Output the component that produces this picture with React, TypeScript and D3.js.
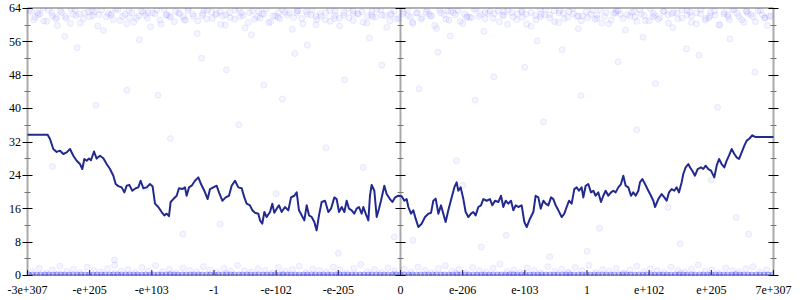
import React from "react";
import * as d3 from "d3";

// x in tick-index units (-6 .. 6), y in value units
const xTickLabels = ["-3e+307", "-e+205", "-e+103", "-1", "-e-102", "-e-205", "0", "e-206", "e-103", "1", "e+102", "e+205", "7e+307"];
const xTickPos = [-6, -5, -4, -3, -2, -1, 0, 1, 2, 3, 4, 5, 6];
const yMajor = [0, 8, 16, 24, 32, 40, 48, 56, 64];
const yMinor = [4, 12, 20, 28, 36, 44, 52, 60];

const lineX = [
  -6.0, -5.676, -5.638, -5.585, -5.531, -5.477, -5.424, -5.37, -5.316, -5.263, -5.209, -5.156, -5.118, -5.086, -5.048, -5.011, -4.979, -4.93, -4.888, -4.834,
  -4.78, -4.727, -4.673, -4.619, -4.582, -4.539, -4.485, -4.442, -4.405, -4.362, -4.314, -4.26, -4.217, -4.18, -4.137, -4.083, -4.03, -3.987, -3.949, -3.896,
  -3.842, -3.799, -3.761, -3.724, -3.697, -3.654, -3.601, -3.563, -3.509, -3.467, -3.44, -3.402, -3.359, -3.306, -3.252, -3.209, -3.156, -3.102, -3.064, -3.011,
  -2.957, -2.92, -2.866, -2.812, -2.759, -2.716, -2.662, -2.609, -2.555, -2.512, -2.475, -2.421, -2.383, -2.341, -2.287, -2.26, -2.223, -2.19, -2.153, -2.099,
  -2.062, -2.03, -1.992, -1.954, -1.912, -1.858, -1.804, -1.761, -1.708, -1.67, -1.633, -1.59, -1.547, -1.509, -1.472, -1.429, -1.386, -1.349, -1.311, -1.268,
  -1.214, -1.161, -1.118, -1.064, -1.027, -0.989, -0.946, -0.903, -0.866, -0.828, -0.786, -0.743, -0.705, -0.668, -0.625, -0.598, -0.56, -0.517, -0.491, -0.464,
  -0.421, -0.383, -0.346, -0.314, -0.26, -0.223, -0.169, -0.131, -0.088, -0.035,
  0.019, 0.062, 0.099, 0.126, 0.169, 0.206, 0.244, 0.287, 0.34, 0.394, 0.448, 0.491, 0.528, 0.566, 0.609, 0.651, 0.689, 0.726, 0.769, 0.823,
  0.866, 0.903, 0.93, 0.968, 1.011, 1.048, 1.091, 1.134, 1.172, 1.209, 1.252, 1.295, 1.332, 1.386, 1.44, 1.477, 1.52, 1.574, 1.617, 1.654,
  1.692, 1.735, 1.778, 1.815, 1.853, 1.895, 1.949, 1.992, 2.03, 2.083, 2.137, 2.174, 2.217, 2.255, 2.298, 2.335, 2.378, 2.421, 2.459, 2.496,
  2.539, 2.593, 2.635, 2.673, 2.711, 2.753, 2.796, 2.834, 2.871, 2.914, 2.941, 2.979, 3.021, 3.064, 3.102, 3.139, 3.182, 3.225, 3.263, 3.3,
  3.343, 3.386, 3.424, 3.461, 3.504, 3.547, 3.584, 3.622, 3.665, 3.708, 3.745, 3.783, 3.826, 3.852, 3.89, 3.933, 3.987, 4.029, 4.067, 4.094,
  4.147, 4.201, 4.244, 4.281, 4.319, 4.362, 4.404, 4.442, 4.479, 4.522, 4.549, 4.587, 4.63, 4.657, 4.694, 4.737, 4.78, 4.834, 4.871, 4.909,
  4.952, 4.995, 5.048, 5.086, 5.124, 5.166, 5.209, 5.247, 5.284, 5.327, 5.37, 5.408, 5.445, 5.488, 5.531, 5.569, 5.606, 5.66, 5.703, 6.0,
];
const lineY = [
  33.6, 33.6, 32.6, 30.2, 29.5, 29.8, 29.0, 29.4, 30.2, 28.6, 27.4, 26.6, 25.4, 27.8, 27.4, 27.9, 27.5, 29.6, 27.9, 28.6,
  28.0, 26.6, 25.4, 23.8, 21.8, 21.3, 21.0, 19.8, 21.4, 21.6, 20.2, 20.8, 21.0, 22.6, 20.8, 21.0, 21.8, 21.2, 17.1, 16.3,
  15.1, 14.3, 14.7, 14.1, 17.5, 18.2, 19.0, 20.8, 20.6, 21.0, 19.0, 21.0, 21.4, 22.6, 23.4, 21.8, 20.2, 18.2, 20.6, 21.0,
  21.4, 19.8, 17.8, 18.6, 19.0, 21.4, 22.6, 21.0, 20.8, 18.6, 17.1, 16.7, 15.5, 14.9, 14.7, 13.1, 12.3, 15.1, 13.9, 15.1,
  17.1, 14.9, 15.9, 16.7, 15.1, 16.3, 15.5, 18.6, 19.0, 19.8, 15.5, 14.3, 13.1, 16.7, 14.3, 13.9, 12.7, 10.7, 14.3, 17.5,
  17.8, 15.1, 15.9, 18.6, 18.2, 15.1, 16.3, 15.1, 17.8, 15.9, 15.5, 14.7, 15.9, 16.3, 14.7, 16.3, 14.7, 13.1, 19.0, 21.6,
  20.2, 13.9, 15.9, 17.8, 21.4, 19.4, 18.2, 17.5, 18.6, 19.0,
  18.9, 17.8, 18.2, 16.3, 14.7, 15.5, 13.5, 11.5, 12.3, 13.9, 14.7, 14.9, 17.8, 18.3, 14.7, 16.7, 14.7, 12.7, 15.5, 18.6,
  21.0, 22.2, 20.2, 21.0, 18.2, 15.1, 13.9, 14.7, 15.1, 14.3, 16.3, 16.7, 18.2, 17.8, 18.2, 16.7, 17.8, 17.5, 19.0, 16.3,
  17.8, 17.1, 17.8, 15.5, 16.7, 16.3, 16.7, 12.7, 11.5, 13.5, 15.1, 19.0, 18.6, 15.9, 17.8, 17.1, 16.7, 18.6, 18.2, 16.7,
  15.5, 13.9, 14.7, 16.3, 17.8, 17.1, 20.6, 21.0, 20.2, 21.0, 18.6, 21.4, 21.8, 19.8, 20.2, 19.0, 19.8, 17.5, 19.0, 20.2,
  19.0, 19.8, 20.2, 19.8, 21.0, 21.8, 23.8, 21.4, 21.0, 19.0, 19.8, 19.0, 20.2, 22.2, 23.0, 21.8, 20.2, 19.0, 17.8, 16.3,
  18.2, 19.4, 18.6, 17.8, 19.8, 20.6, 20.2, 21.0, 19.8, 22.2, 24.2, 25.8, 26.6, 25.8, 25.0, 23.8, 25.4, 25.8, 25.4, 26.2,
  25.4, 25.0, 23.4, 26.2, 27.8, 26.6, 25.8, 27.4, 28.6, 30.2, 29.0, 28.2, 27.8, 29.4, 31.0, 32.2, 32.6, 33.5, 33.1, 33.1,
];

const topPts: [number, number][] = [
  [-5.95, 63.2], [-5.88, 61.8], [-5.8, 62.6], [-5.74, 60.9], [-5.66, 63.5], [-5.6, 62.1], [-5.52, 59.8], [-5.45, 62.9], [-5.38, 61.5], [-5.3, 63.8],
  [-5.22, 62.2], [-5.15, 60.4], [-5.08, 62.8], [-5.0, 61.9], [-4.92, 63.1], [-4.85, 62.4], [-4.78, 58.6], [-4.7, 62.7], [-4.62, 61.2], [-4.55, 63.6],
  [-4.47, 62.0], [-4.4, 60.2], [-4.32, 62.9], [-4.25, 61.6], [-4.17, 63.3], [-4.1, 62.3], [-4.02, 59.5], [-3.95, 62.6], [-3.87, 61.1], [-3.8, 63.7],
  [-3.72, 62.1], [-3.64, 60.7], [-3.57, 62.8], [-3.49, 61.9], [-3.42, 63.4], [-3.34, 62.5], [-3.27, 57.9], [-3.19, 62.2], [-3.12, 61.4], [-3.04, 63.0],
  [-2.96, 62.7], [-2.89, 60.1], [-2.81, 62.4], [-2.74, 61.7], [-2.66, 63.5], [-2.58, 62.0], [-2.5, 59.2], [-2.43, 62.9], [-2.35, 61.3], [-2.28, 63.2],
  [-2.2, 62.6], [-2.12, 60.5], [-2.05, 62.1], [-1.97, 61.8], [-1.9, 63.6], [-1.82, 62.3], [-1.74, 58.9], [-1.67, 62.8], [-1.59, 61.5], [-1.52, 63.1],
  [-1.44, 62.4], [-1.36, 60.0], [-1.29, 62.7], [-1.21, 61.2], [-1.14, 63.4], [-1.06, 62.2], [-0.98, 59.7], [-0.91, 62.9], [-0.83, 61.6], [-0.76, 63.3],
  [-0.68, 62.5], [-0.6, 60.6], [-0.53, 62.0], [-0.45, 61.9], [-0.38, 63.7], [-0.3, 62.3], [-0.22, 59.4], [-0.15, 62.6], [-0.07, 61.4],
  [0.05, 63.0], [0.12, 62.2], [0.2, 60.3], [0.27, 62.8], [0.35, 61.7], [0.43, 63.5], [0.5, 62.1], [0.58, 59.1], [0.65, 62.9], [0.73, 61.3],
  [0.81, 63.2], [0.88, 62.4], [0.96, 60.8], [1.03, 62.6], [1.11, 61.8], [1.19, 63.6], [1.26, 62.0], [1.34, 58.4], [1.41, 62.7], [1.49, 61.5],
  [1.57, 63.3], [1.64, 62.3], [1.72, 60.1], [1.79, 62.9], [1.87, 61.2], [1.95, 63.4], [2.02, 62.5], [2.1, 59.6], [2.17, 62.2], [2.25, 61.9],
  [2.33, 63.7], [2.4, 62.4], [2.48, 60.7], [2.55, 62.8], [2.63, 61.4], [2.71, 63.1], [2.78, 62.6], [2.86, 59.0], [2.93, 62.1], [3.01, 61.7],
  [3.09, 63.5], [3.16, 62.3], [3.24, 60.4], [3.31, 62.9], [3.39, 61.1], [3.47, 63.3], [3.54, 62.5], [3.62, 58.7], [3.69, 62.0], [3.77, 61.8],
  [3.85, 63.6], [3.92, 62.2], [4.0, 60.9], [4.07, 62.7], [4.15, 61.3], [4.23, 63.2], [4.3, 62.4], [4.38, 59.3], [4.45, 62.8], [4.53, 61.6],
  [4.61, 63.4], [4.68, 62.1], [4.76, 60.2], [4.83, 62.6], [4.91, 61.5], [4.99, 63.0], [5.06, 62.3], [5.14, 59.9], [5.21, 62.9], [5.29, 61.2],
  [5.37, 63.5], [5.44, 62.0], [5.52, 60.6], [5.59, 62.7], [5.67, 61.9], [5.75, 63.3], [5.82, 62.4], [5.9, 59.8], [5.96, 62.1],
  [-5.84, 62.9], [-5.55, 61.4], [-5.27, 62.5], [-4.96, 63.4], [-4.66, 62.3], [-4.36, 61.7], [-4.06, 63.0], [-3.76, 62.4], [-3.46, 61.2], [-3.16, 63.5],
  [-2.86, 62.1], [-2.56, 62.8], [-2.26, 61.6], [-1.96, 62.9], [-1.66, 63.3], [-1.36, 62.0], [-1.06, 61.5], [-0.76, 62.7], [-0.46, 63.2], [-0.16, 62.4],
  [0.16, 61.9], [0.46, 62.6], [0.76, 63.3], [1.06, 61.7], [1.36, 62.9], [1.66, 63.1], [1.96, 61.8], [2.26, 62.5], [2.56, 63.4], [2.86, 62.0],
  [3.16, 61.5], [3.46, 62.8], [3.76, 63.2], [4.06, 61.9], [4.36, 62.6], [4.66, 63.0], [4.96, 61.6], [5.26, 62.4], [5.56, 63.3], [5.86, 61.7],
];

const topX2 = [
  -5.97, -5.9, -5.83, -5.75, -5.69, -5.61, -5.53, -5.47, -5.39, -5.31, -5.24, -5.17, -5.1, -5.02, -4.95, -4.87, -4.81, -4.73, -4.65, -4.58,
  -4.51, -4.43, -4.37, -4.29, -4.21, -4.14, -4.07, -3.99, -3.92, -3.85, -3.77, -3.7, -3.62, -3.55, -3.48, -3.41, -3.33, -3.26, -3.18, -3.11,
  -3.03, -2.97, -2.9, -2.82, -2.75, -2.67, -2.6, -2.53, -2.45, -2.38, -2.31, -2.23, -2.16, -2.09, -2.01, -1.94, -1.86, -1.79, -1.72, -1.65,
  -1.57, -1.5, -1.42, -1.35, -1.28, -1.2, -1.13, -1.05, -0.98, -0.91, -0.84, -0.76, -0.69, -0.62, -0.54, -0.47, -0.4, -0.32, -0.25, -0.17,
  -0.1, -0.03, 0.04, 0.11, 0.19, 0.26, 0.33, 0.41, 0.48, 0.55, 0.63, 0.7, 0.78, 0.85, 0.92, 1.0, 1.07, 1.14, 1.22, 1.29,
  1.36, 1.44, 1.51, 1.59, 1.66, 1.73, 1.81, 1.88, 1.95, 2.03, 2.1, 2.18, 2.25, 2.32, 2.4, 2.47, 2.54, 2.62, 2.69, 2.77,
  2.84, 2.91, 2.99, 3.06, 3.13, 3.21, 3.28, 3.35, 3.43, 3.5, 3.58, 3.65, 3.72, 3.8, 3.87, 3.94, 4.02, 4.09, 4.17, 4.24,
  4.31, 4.39, 4.46, 4.53, 4.61, 4.68, 4.76, 4.83, 4.9, 4.98, 5.05, 5.12, 5.2, 5.27, 5.34, 5.42, 5.49, 5.57, 5.64, 5.71,
  5.79, 5.86, 5.93,
];
const topY2 = [
  63.6, 61.2, 62.4, 63.9, 60.8, 62.9, 61.7, 63.3, 62.0, 60.3, 63.7, 62.6, 61.4, 63.1, 62.2, 59.7, 63.5, 61.9, 62.7, 63.8,
  61.0, 62.5, 63.4, 60.6, 62.1, 63.0, 61.6, 62.8, 63.6, 60.1, 62.3, 61.8, 63.2, 62.6, 61.1, 63.9, 62.0, 60.9, 62.7, 63.5,
  61.5, 62.4, 63.1, 59.9, 62.9, 61.3, 63.7, 62.2, 60.5, 63.3, 61.9, 62.6, 63.8, 60.7, 62.1, 61.4, 63.0, 62.8, 61.7, 63.4,
  60.2, 62.5, 63.6, 61.2, 62.0, 62.9, 60.8, 63.2, 61.6, 62.3, 63.9, 61.0, 62.7, 63.1, 60.4, 62.4, 61.8, 63.5, 62.2, 60.9,
  63.3, 61.5, 62.6, 63.7, 60.6, 62.8, 61.3, 63.0, 62.1, 59.8, 63.6, 62.4, 61.1, 62.9, 63.4, 60.3, 62.0, 61.7, 63.8, 62.5,
  61.4, 63.2, 62.7, 60.7, 62.2, 63.5, 61.9, 62.6, 63.0, 60.1, 62.9, 61.2, 63.7, 62.3, 61.6, 63.3, 60.5, 62.8, 61.8, 63.9,
  62.1, 60.9, 63.1, 62.5, 61.3, 63.6, 62.0, 60.2, 62.7, 63.4, 61.5, 62.4, 63.0, 60.8, 62.6, 61.0, 63.8, 62.2, 61.7, 63.2,
  60.4, 62.9, 61.4, 63.5, 62.3, 60.6, 62.8, 63.7, 61.1, 62.1, 63.3, 60.0, 62.5, 61.9, 63.6, 62.7, 61.2, 63.1, 62.4, 60.7,
  63.4, 61.6, 62.0,
];

const midPts: [number, number][] = [
  [-5.2, 54.5], [-4.9, 40.7], [-4.4, 44.3], [-3.9, 43.1], [-3.5, 9.8], [-3.2, 52.0], [-2.8, 49.2], [-2.6, 36.0], [-2.2, 45.5], [-1.9, 42.2],
  [-1.5, 55.1], [-1.2, 30.5], [-0.9, 46.8], [-0.6, 25.8], [-0.3, 50.3], [-0.1, 9.1], [0.3, 44.6], [0.6, 53.4], [0.9, 27.4], [1.2, 41.9],
  [1.5, 47.5], [1.7, 9.5], [2.0, 49.8], [2.3, 36.7], [2.6, 54.0], [2.9, 43.0], [3.2, 11.2], [3.5, 51.1], [3.8, 34.8], [4.1, 45.9],
  [4.5, 7.5], [4.8, 52.7], [5.1, 40.2], [5.4, 13.8], [5.7, 48.6], [-5.6, 26.0], [-4.1, 20.9], [-2.0, 19.5], [1.0, 21.5], [4.3, 16.2],
  [5.0, 22.8], [3.0, 5.7], [-1.0, 5.2], [-4.6, 3.6], [2.4, 4.4], [0.2, 8.3], [-2.9, 12.2], [5.6, 9.8], [1.3, 6.7], [-3.7, 32.7],
  [-5.4, 57.2], [-4.2, 56.4], [-2.4, 57.6], [-0.5, 56.8], [0.8, 57.3], [2.2, 56.1], [3.9, 57.0], [5.3, 56.6], [-1.7, 53.1], [4.6, 54.2],
];

const bottomPts: [number, number][] = [
  [-5.92, 0.8], [-5.81, 1.6], [-5.7, 0.5], [-5.6, 1.2], [-5.48, 2.1], [-5.37, 0.9], [-5.26, 1.4], [-5.15, 0.6], [-5.04, 1.9], [-4.93, 1.1],
  [-4.82, 0.7], [-4.71, 1.5], [-4.6, 2.4], [-4.49, 0.9], [-4.38, 1.3], [-4.27, 0.6], [-4.16, 1.8], [-4.05, 1.0], [-3.94, 2.2], [-3.83, 0.8],
  [-3.72, 1.4], [-3.61, 0.5], [-3.5, 1.7], [-3.39, 1.1], [-3.28, 0.7], [-3.17, 2.0], [-3.06, 1.2], [-2.95, 0.6], [-2.84, 1.6], [-2.73, 0.9],
  [-2.62, 2.3], [-2.51, 1.0], [-2.4, 0.7], [-2.29, 1.5], [-2.18, 1.1], [-2.07, 0.5], [-1.96, 1.8], [-1.85, 0.9], [-1.74, 1.3], [-1.63, 2.1],
  [-1.52, 0.6], [-1.41, 1.4], [-1.3, 1.0], [-1.19, 0.7], [-1.08, 1.9], [-0.97, 1.2], [-0.86, 0.5], [-0.75, 1.6], [-0.64, 2.5], [-0.53, 0.8],
  [-0.42, 1.3], [-0.31, 0.6], [-0.2, 1.7], [-0.09, 1.0],
  [0.06, 1.4], [0.17, 0.7], [0.28, 1.9], [0.39, 1.1], [0.5, 0.6], [0.61, 1.5], [0.72, 2.2], [0.83, 0.9], [0.94, 1.3], [1.05, 0.5],
  [1.16, 1.8], [1.27, 1.0], [1.38, 0.7], [1.49, 1.6], [1.6, 2.6], [1.71, 0.8], [1.82, 1.2], [1.93, 0.6], [2.04, 1.7], [2.15, 1.1],
  [2.26, 0.5], [2.37, 2.0], [2.48, 0.9], [2.59, 1.4], [2.7, 0.7], [2.81, 1.8], [2.92, 1.0], [3.03, 2.3], [3.14, 0.6], [3.25, 1.3],
  [3.36, 0.9], [3.47, 1.6], [3.58, 0.5], [3.69, 1.2], [3.8, 2.1], [3.91, 0.8], [4.02, 1.5], [4.13, 1.0], [4.24, 0.6], [4.35, 1.9],
  [4.46, 1.1], [4.57, 0.7], [4.68, 1.4], [4.79, 2.4], [4.9, 0.9], [5.01, 1.2], [5.12, 0.5], [5.23, 1.7], [5.34, 1.0], [5.45, 0.8],
  [5.56, 1.5], [5.67, 2.0], [5.78, 0.7], [5.89, 1.2],
  [-5.5, 0.3], [-4.6, 0.4], [-3.7, 0.3], [-2.8, 0.4], [-1.9, 0.3], [-1.0, 0.4], [-0.1, 0.3], [0.9, 0.4], [1.8, 0.3], [2.7, 0.4],
  [3.6, 0.3], [4.5, 0.4], [5.4, 0.3],
];

const zeroX = [
  -5.98, -5.92, -5.85, -5.79, -5.72, -5.66, -5.59, -5.53, -5.46, -5.4, -5.33, -5.27, -5.2, -5.14, -5.07, -5.01, -4.94, -4.88, -4.81, -4.75,
  -4.68, -4.62, -4.55, -4.49, -4.42, -4.36, -4.29, -4.23, -4.16, -4.1, -4.03, -3.97, -3.9, -3.84, -3.77, -3.71, -3.64, -3.58, -3.51, -3.45,
  -3.38, -3.32, -3.25, -3.19, -3.12, -3.06, -2.99, -2.93, -2.86, -2.8, -2.73, -2.67, -2.6, -2.54, -2.47, -2.41, -2.34, -2.28, -2.21, -2.15,
  -2.08, -2.02, -1.95, -1.89, -1.82, -1.76, -1.69, -1.63, -1.56, -1.5, -1.43, -1.37, -1.3, -1.24, -1.17, -1.11, -1.04, -0.98, -0.91, -0.85,
  -0.78, -0.72, -0.65, -0.59, -0.52, -0.46, -0.39, -0.33, -0.26, -0.2, -0.13, -0.07, 0.0, 0.06, 0.13, 0.19, 0.26, 0.32, 0.39, 0.45,
  0.52, 0.58, 0.65, 0.71, 0.78, 0.84, 0.91, 0.97, 1.04, 1.1, 1.17, 1.23, 1.3, 1.36, 1.43, 1.49, 1.56, 1.62, 1.69, 1.75,
  1.82, 1.88, 1.95, 2.01, 2.08, 2.14, 2.21, 2.27, 2.34, 2.4, 2.47, 2.53, 2.6, 2.66, 2.73, 2.79, 2.86, 2.92, 2.99, 3.05,
  3.12, 3.18, 3.25, 3.31, 3.38, 3.44, 3.51, 3.57, 3.64, 3.7, 3.77, 3.83, 3.9, 3.96, 4.03, 4.09, 4.16, 4.22, 4.29, 4.35,
  4.42, 4.48, 4.55, 4.61, 4.68, 4.74, 4.81, 4.87, 4.94, 5.0, 5.07, 5.13, 5.2, 5.26, 5.33, 5.39, 5.46, 5.52, 5.59, 5.65,
  5.72, 5.78, 5.85, 5.91, 5.98,
];

const W = 800;
const H = 300;
const left = 27.5;
const right = 773.5;
const top = 8;
const bottom = 275;

export default function App() {
  const x = d3.scaleLinear().domain([-6, 6]).range([left, right]);
  const y = d3.scaleLinear().domain([0, 64]).range([bottom, top]);
  const line = d3
    .line<number>()
    .x((_, i) => x(lineX[i]))
    .y((v) => y(v));
  const pts: [number, number][] = [
    ...topPts,
    ...topX2.map((v, i) => [v, topY2[i]] as [number, number]),
    ...midPts,
    ...bottomPts,
  ];
  const font = "serif";
  const axisXs = [x(-6), x(0), x(6)];
  return (
    <svg width={W} height={H} style={{ position: "absolute", left: 0, top: 0, background: "#fff" }}>
      <defs>
        <clipPath id="plot">
          <rect x={left} y={top} width={right - left} height={bottom - top + 1} />
        </clipPath>
      </defs>
      <rect x={0} y={0} width={W} height={H} fill="#fff" />
      {/* frame lines */}
      <line x1={left} x2={right} y1={top} y2={top} stroke="#999" strokeWidth={1.5} />
      <line x1={left} x2={right} y1={bottom} y2={bottom} stroke="#999" strokeWidth={1.5} />
      {axisXs.map((ax, i) => (
        <line key={"ax" + i} x1={ax} x2={ax} y1={top} y2={bottom} stroke="#aaa" strokeWidth={2} />
      ))}
      {/* y ticks */}
      {axisXs.map((ax, i) => (
        <g key={"yt" + i}>
          {yMajor.map((v) => (
            <line key={v} x1={ax - 5} x2={ax + 5} y1={Math.round(y(v)) + 0.5} y2={Math.round(y(v)) + 0.5} stroke="#000" strokeWidth={1} />
          ))}
          {yMinor.map((v) => (
            <line key={v} x1={ax - 3} x2={ax + 3} y1={Math.round(y(v)) + 0.5} y2={Math.round(y(v)) + 0.5} stroke="#777" strokeWidth={1} />
          ))}
        </g>
      ))}
      {/* x ticks */}
      {xTickPos.map((p) => (
        <line key={p} x1={x(p)} x2={x(p)} y1={bottom - 5} y2={bottom} stroke="#222" strokeWidth={1} />
      ))}
      {/* scatter */}
      <g clipPath="url(#plot)">
        {pts.map((p, i) => (
          <circle
            key={i}
            cx={x(p[0])}
            cy={y(p[1])}
            r={3}
            fill="rgba(60,60,255,0.05)"
            stroke="rgba(60,60,255,0.09)"
            strokeWidth={1}
          />
        ))}
        {zeroX.map((v, i) => (
          <circle
            key={"z" + i}
            cx={x(v)}
            cy={y(0)}
            r={3}
            fill="rgba(40,40,255,0.2)"
            stroke="rgba(40,40,255,0.3)"
            strokeWidth={1}
          />
        ))}
      </g>
      <path d={line(lineY) || ""} fill="none" stroke="#232a8e" strokeWidth={2} strokeLinejoin="round" />
      {/* y labels */}
      {yMajor.map((v) => (
        <text key={v} x={21} y={y(v)} dy="0.36em" textAnchor="end" fontFamily={font} fontSize={12} fill="#000">
          {v}
        </text>
      ))}
      {/* x labels */}
      {xTickPos.map((p, i) => (
        <text key={p} x={x(p)} y={294} textAnchor="middle" fontFamily={font} fontSize={12} fill="#000">
          {xTickLabels[i]}
        </text>
      ))}
    </svg>
  );
}
